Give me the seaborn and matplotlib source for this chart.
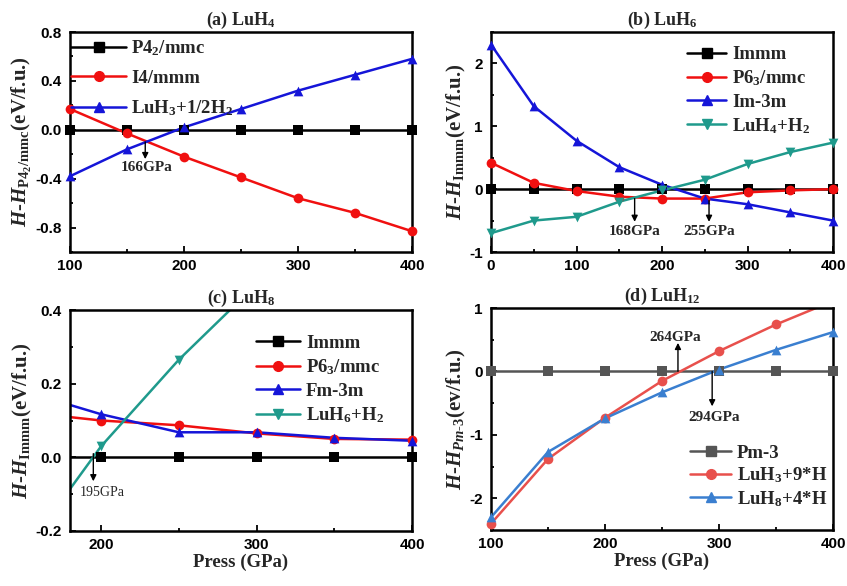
import numpy as np
import pandas as pd
import matplotlib
matplotlib.use("Agg")
import matplotlib.pyplot as plt
from matplotlib.ticker import MultipleLocator
from matplotlib.lines import Line2D
import seaborn as sns

sns.set_theme(style="ticks")
plt.rcParams['font.family'] = ['Liberation Serif', 'DejaVu Serif']
plt.rcParams['font.weight'] = 'bold'
plt.rcParams['mathtext.fontset'] = 'custom'
plt.rcParams['mathtext.rm'] = 'Liberation Serif:bold'
plt.rcParams['mathtext.bf'] = 'Liberation Serif:bold'
plt.rcParams['mathtext.it'] = 'Liberation Serif:italic:bold'

# ---------------- data ----------------
# (a) LuH4
p_a = [100, 150, 200, 250, 300, 350, 400]
a_P42mmc = [0, 0, 0, 0, 0, 0, 0]
a_I4mmm = [0.17, -0.03, -0.22, -0.39, -0.56, -0.68, -0.83]
a_LuH3_H2 = [-0.38, -0.16, 0.02, 0.17, 0.32, 0.45, 0.58]

# (b) LuH6
p_b = [0, 50, 100, 150, 200, 250, 300, 350, 400]
b_Immm = [0, 0, 0, 0, 0, 0, 0, 0, 0]
b_P63mmc = [0.42, 0.10, -0.03, -0.12, -0.15, -0.15, -0.05, -0.02, 0.0]
b_Im3m = [2.30, 1.32, 0.77, 0.35, 0.07, -0.15, -0.24, -0.37, -0.50]
b_LuH4_H2 = [-0.70, -0.50, -0.44, -0.20, -0.02, 0.15, 0.40, 0.59, 0.74]

# (c) LuH8
p_c = [150, 200, 250, 300, 350, 400]
c_Immm = [0, 0, 0, 0, 0, 0]
c_P63mmc = [0.123, 0.100, 0.087, 0.065, 0.050, 0.048]
c_Fm3m = [0.180, 0.117, 0.068, 0.068, 0.053, 0.045]
c_LuH6_H2 = [-0.26, 0.03, 0.265, 0.47, 0.66, 0.84]

# (d) LuH12
p_d = [100, 150, 200, 250, 300, 350, 400]
d_Pm3 = [0, 0, 0, 0, 0, 0, 0]
d_LuH3_9H = [-2.40, -1.38, -0.73, -0.15, 0.32, 0.74, 1.11]
d_LuH8_4H = [-2.30, -1.27, -0.74, -0.33, 0.03, 0.34, 0.62]

BLACK, RED, BLUE, TEAL = '#000000', '#f01010', '#1515d8', '#1f9a8c'
GRAY, RED2, BLUE2 = '#555555', '#e8504c', '#3a7fd0'

fig = plt.figure(figsize=(8.47, 5.86), dpi=100)
W, H = 847, 586
def box(l, t, r, b):
    return [l / W, 1 - b / H, (r - l) / W, (b - t) / H]

ax_a = fig.add_axes(box(70, 32, 412, 252))
ax_b = fig.add_axes(box(491, 32, 833, 252))
ax_c = fig.add_axes(box(70, 310, 412, 531))
ax_d = fig.add_axes(box(491, 308, 833, 530))

LIMS = {}

def draw(ax, x, y, color, marker, label, ms=7):
    xlim, ylim = LIMS[ax]
    df = pd.DataFrame({'x': x, 'y': y})
    # line, clipped to the axes
    sns.lineplot(data=df, x='x', y='y', ax=ax, color=color, linewidth=1.8,
                 legend=False, zorder=2)
    # markers inside the frame, not clipped at the spines
    inside = df[(df.x >= xlim[0]) & (df.x <= xlim[1]) &
                (df.y >= ylim[0]) & (df.y <= ylim[1])]
    sns.scatterplot(data=inside, x='x', y='y', ax=ax, color=color, marker=marker,
                    s=ms ** 2, edgecolor=color, linewidth=0, legend=False,
                    clip_on=False, zorder=3)
    return Line2D([], [], color=color, marker=marker, markersize=ms,
                  linewidth=1.8, label=label)

def setlims(ax, xlim, ylim):
    LIMS[ax] = (xlim, ylim)
    ax.set_xlim(*xlim)
    ax.set_ylim(*ylim)

def style(ax, xmaj, xmin, ymaj, ymin, title, ylabel, xlabel=None, yfmt=None):
    xlim, ylim = LIMS[ax]
    ax.set_xlim(*xlim)
    ax.set_ylim(*ylim)
    ax.xaxis.set_major_locator(MultipleLocator(xmaj))
    ax.xaxis.set_minor_locator(MultipleLocator(xmin))
    ax.yaxis.set_major_locator(MultipleLocator(ymaj))
    ax.yaxis.set_minor_locator(MultipleLocator(ymin))
    if yfmt:
        ax.yaxis.set_major_formatter(plt.FormatStrFormatter(yfmt))
    ax.tick_params(which='both', direction='in', top=False, right=False,
                   width=1.3, colors='black')
    ax.tick_params(axis='y', pad=6)
    ax.tick_params(axis='x', pad=5)
    ax.tick_params(which='major', length=4)
    ax.tick_params(which='minor', length=2.5)
    for lab in ax.get_xticklabels() + ax.get_yticklabels():
        lab.set_fontfamily('Liberation Sans')
        lab.set_fontweight('bold')
        lab.set_fontsize(11)
    for s in ax.spines.values():
        s.set_linewidth(1.8)
        s.set_color('black')
        s.set_visible(True)
    ax.set_title(title, fontsize=13, fontweight='bold', pad=5)
    ax.set_ylabel(ylabel, fontsize=15, fontweight='bold', labelpad=1)
    ax.set_xlabel(xlabel if xlabel else '', fontsize=13.5, fontweight='bold', labelpad=1)

def arrow(ax, x, y0, y1, text, tx, ty, fs=11, fw='bold'):
    ax.annotate('', xy=(x, y1), xytext=(x, y0),
                arrowprops=dict(arrowstyle='-|>', color='black', lw=1.0,
                                mutation_scale=9, shrinkA=0, shrinkB=0))
    ax.text(tx, ty, text, ha='center', va='center', fontsize=fs, fontweight=fw)

LEG = dict(frameon=False, fontsize=13.5, handletextpad=0.3, borderaxespad=0)

# (a)
setlims(ax_a, (100, 400), (-1.0, 0.8))
h = [draw(ax_a, p_a, a_P42mmc, BLACK, 's', r'P4$_2$/mmc'),
     draw(ax_a, p_a, a_I4mmm, RED, 'o', 'I4/mmm'),
     draw(ax_a, p_a, a_LuH3_H2, BLUE, '^', r'LuH$_3$+1/2H$_2$')]
style(ax_a, 100, 50, 0.4, 0.2, r'(a) LuH$_4$',
      r'$H$-$H_{\mathrm{P4_2/mmc}}$(eV/f.u.)', yfmt='%.1f')
arrow(ax_a, 166, -0.10, -0.24, '166GPa', 167, -0.31)
ax_a.legend(handles=h, loc='upper left', handlelength=2.9, labelspacing=0.62,
            bbox_to_anchor=(-0.018, 1.005), **LEG)

# (b)
setlims(ax_b, (0, 400), (-1.0, 2.5))
h = [draw(ax_b, p_b, b_Immm, BLACK, 's', 'Immm'),
     draw(ax_b, p_b, b_P63mmc, RED, 'o', r'P6$_3$/mmc'),
     draw(ax_b, p_b, b_Im3m, BLUE, '^', 'Im-3m'),
     draw(ax_b, p_b, b_LuH4_H2, TEAL, 'v', r'LuH$_4$+H$_2$')]
style(ax_b, 100, 50, 1, 0.5, r'(b) LuH$_6$',
      r'$H$-$H_{\mathrm{Immm}}$(eV/f.u.)', yfmt='%d')
arrow(ax_b, 168, -0.15, -0.52, '168GPa', 168, -0.67)
arrow(ax_b, 255, -0.18, -0.52, '255GPa', 255, -0.67)
ax_b.legend(handles=h, loc='upper right', handlelength=2.1, labelspacing=0.28,
            bbox_to_anchor=(0.955, 0.97), **LEG)

# (c)
setlims(ax_c, (180, 400), (-0.2, 0.4))
h = [draw(ax_c, p_c, c_Immm, BLACK, 's', 'Immm'),
     draw(ax_c, p_c, c_P63mmc, RED, 'o', r'P6$_3$/mmc'),
     draw(ax_c, p_c, c_Fm3m, BLUE, '^', 'Fm-3m'),
     draw(ax_c, p_c, c_LuH6_H2, TEAL, 'v', r'LuH$_6$+H$_2$')]
style(ax_c, 100, 50, 0.2, 0.1, r'(c) LuH$_8$',
      r'$H$-$H_{\mathrm{Immm}}$(eV/f.u.)', 'Press (GPa)', yfmt='%.1f')
arrow(ax_c, 195, 0.01, -0.065, '195GPa', 201, -0.095, fs=10, fw='normal')
ax_c.legend(handles=h, loc='upper right', handlelength=2.35, labelspacing=0.3,
            bbox_to_anchor=(0.94, 0.923), **LEG)

# (d)
setlims(ax_d, (100, 400), (-2.5, 1.0))
h = [draw(ax_d, p_d, d_Pm3, GRAY, 's', 'Pm-3'),
     draw(ax_d, p_d, d_LuH3_9H, RED2, 'o', r'LuH$_3$+9*H'),
     draw(ax_d, p_d, d_LuH8_4H, BLUE2, '^', r'LuH$_8$+4*H')]
style(ax_d, 100, 50, 1, 0.5, r'(d) LuH$_{12}$',
      r'$H$-$H_{Pm\text{-}3}$(ev/f.u.)', 'Press (GPa)', yfmt='%d')
arrow(ax_d, 264, 0.0, 0.45, '264GPa', 262, 0.53)
arrow(ax_d, 294, 0.0, -0.55, '294GPa', 296, -0.72)
ax_d.legend(handles=h, loc='lower right', handlelength=2.2, labelspacing=0.2,
            bbox_to_anchor=(1.005, 0.062), **LEG)

fig.savefig('out.png', dpi=100)
